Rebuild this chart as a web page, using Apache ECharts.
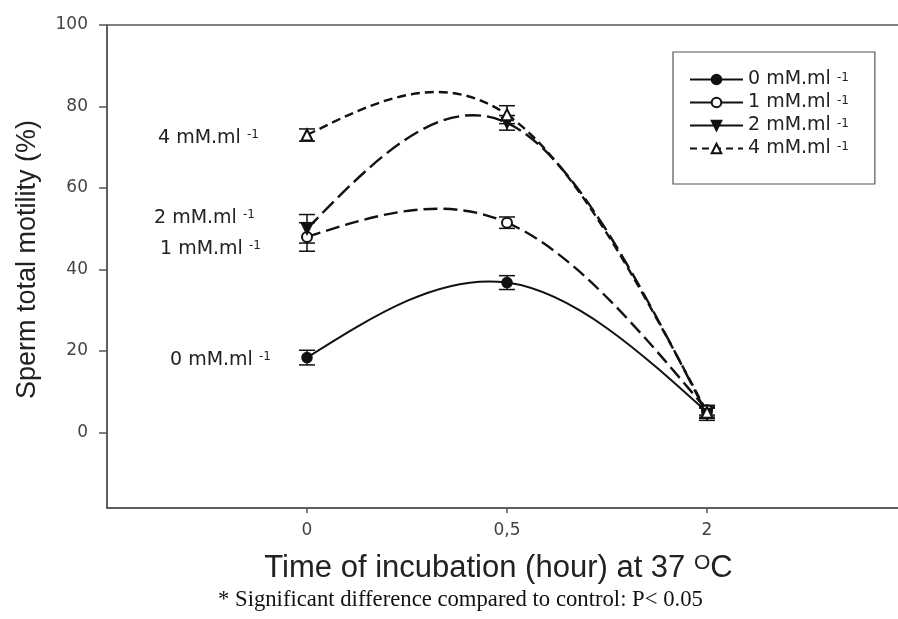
<!DOCTYPE html>
<html><head><meta charset="utf-8">
<script src="https://cdn.jsdelivr.net/npm/echarts@6/dist/echarts.min.js"></script>
<style>html,body{margin:0;padding:0;background:#fff}#c{width:898px;height:619px}</style>
</head><body><div id="c"></div>
<script>
// ---- data ----
const timeLabels = ['0', '0,5', '2'];           // incubation time (hour)
const yTicks = [0, 20, 40, 60, 80, 100];
const seriesNames = ['0 mM.ml', '1 mM.ml', '2 mM.ml', '4 mM.ml'];
const mean0 = [18.4, 36.8, 5.0];
const err0  = [1.8, 1.7, 1.2];
const mean1 = [48.0, 51.5, 5.5];
const err1  = [3.5, 1.4, 1.2];
const mean2 = [50.0, 76.0, 4.5];
const err2  = [3.5, 1.8, 1.5];
const mean4 = [73.0, 78.0, 5.0];
const err4  = [1.5, 2.2, 1.5];
const annotationTexts = ['4 mM.ml', '2 mM.ml', '1 mM.ml', '0 mM.ml'];
const footnote = '* Significant difference compared to control: P< 0.05';

const means = [mean0, mean1, mean2, mean4];
const errs = [err0, err1, err2, err4];

const INK = '#111';
const AXIS = '#555';
const dashes = ['solid', [14, 6], [16, 6], [9, 5]];
const symbols = ['circle', 'emptyCircle', 'triangle', 'emptyTriangle'];
const rotations = [0, 0, 180, 0];

// natural cubic spline second derivatives (unit spacing in category index)
function splineM(ys) {
  const n = ys.length, M = new Array(n).fill(0);
  if (n < 3) return M;
  const a = [], b = [], c = [], d = [];
  for (let i = 1; i < n - 1; i++) { a.push(1); b.push(4); c.push(1); d.push(6 * (ys[i + 1] - 2 * ys[i] + ys[i - 1])); }
  const m = b.length;
  for (let i = 1; i < m; i++) { const w = a[i] / b[i - 1]; b[i] -= w * c[i - 1]; d[i] -= w * d[i - 1]; }
  const x = new Array(m);
  x[m - 1] = d[m - 1] / b[m - 1];
  for (let i = m - 2; i >= 0; i--) x[i] = (d[i] - c[i] * x[i + 1]) / b[i];
  for (let i = 0; i < m; i++) M[i + 1] = x[i];
  return M;
}

function curveSeries(ys, k) {
  return {
    type: 'custom', name: seriesNames[k] + ' curve', silent: true, z: 2, clip: true,
    data: ys.map((v, i) => [i, v]),
    encode: { x: 0, y: 1 },
    renderItem: function (params, api) {
      if (params.dataIndex !== 0) return null;
      const M = splineM(ys);
      const children = [];
      for (let i = 0; i < ys.length - 1; i++) {
        const dy = ys[i + 1] - ys[i];
        const s0 = dy - (2 * M[i] + M[i + 1]) / 6;
        const s1 = dy + (M[i] + 2 * M[i + 1]) / 6;
        const p0 = api.coord([i, ys[i]]);
        const c1 = api.coord([i + 1 / 3, ys[i] + s0 / 3]);
        const c2 = api.coord([i + 2 / 3, ys[i + 1] - s1 / 3]);
        const p3 = api.coord([i + 1, ys[i + 1]]);
        children.push({
          type: 'bezierCurve',
          shape: { x1: p0[0], y1: p0[1], cpx1: c1[0], cpy1: c1[1], cpx2: c2[0], cpy2: c2[1], x2: p3[0], y2: p3[1] },
          style: { stroke: INK, lineWidth: k === 0 ? 2 : 2.4, fill: null, lineDash: dashes[k] === 'solid' ? null : dashes[k] }
        });
      }
      return { type: 'group', children: children };
    }
  };
}

function errSeries(mean, err, k) {
  return {
    type: 'custom', name: seriesNames[k] + ' err', silent: true, z: 3,
    data: mean.map((m, i) => [i, m - err[i], m + err[i]]),
    encode: { x: 0, y: [1, 2] },
    renderItem: function (params, api) {
      const x = api.value(0);
      const lo = api.coord([x, api.value(1)]);
      const hi = api.coord([x, api.value(2)]);
      const hw = 8;
      const st = { stroke: INK, lineWidth: 1.5 };
      return {
        type: 'group', children: [
          { type: 'line', shape: { x1: lo[0], y1: lo[1], x2: hi[0], y2: hi[1] }, style: st },
          { type: 'line', shape: { x1: lo[0] - hw, y1: lo[1], x2: lo[0] + hw, y2: lo[1] }, style: st },
          { type: 'line', shape: { x1: hi[0] - hw, y1: hi[1], x2: hi[0] + hw, y2: hi[1] }, style: st }
        ]
      };
    }
  };
}

function markerSeries(mean, k) {
  return {
    type: 'line', name: seriesNames[k], z: 5,
    data: mean.map((m, i) => [i, m]),
    symbol: symbols[k], symbolSize: k >= 2 ? 11 : 10, symbolRotate: rotations[k], showSymbol: true,
    lineStyle: { opacity: 0 },
    itemStyle: { color: INK, borderColor: INK, borderWidth: 1.5 },
    emphasis: { disabled: true }
  };
}

const series = [];
means.forEach((m, k) => series.push(curveSeries(m, k)));
means.forEach((m, k) => series.push(errSeries(m, errs[k], k)));
means.forEach((m, k) => series.push(markerSeries(m, k)));

const supRich = { sup: { fontSize: 12, verticalAlign: 'top', fontFamily: 'DejaVu Sans', fill: '#222', color: '#222' } };

const annPos = [[158, 138], [154, 218], [160, 249], [170, 360]];

const chart = echarts.init(document.getElementById('c'), null, { renderer: 'canvas' });
chart.setOption({
  animation: false,
  backgroundColor: '#fff',
  grid: { left: 107, top: 25, width: 800, height: 483, show: true, borderColor: AXIS, borderWidth: 1.5, outerBoundsMode: 'none', containLabel: false },
  title: {
    text: footnote, left: 213, top: 584,
    textStyle: { fontFamily: 'Liberation Serif', fontSize: 22.7, fontWeight: 'normal', color: '#111' }
  },
  legend: {
    orient: 'vertical', left: 673, top: 52,
    padding: [18, 26, 26, 16],
    borderColor: AXIS, borderWidth: 1.2,
    itemWidth: 53, itemHeight: 12, itemGap: 4,
    selectedMode: false,
    data: seriesNames.map((n, k) => ({
      name: n,
      lineStyle: { opacity: 1, width: 2, color: INK, type: k === 3 ? [7, 5] : 'solid' }
    })),
    formatter: n => n + ' {sup|-1}',
    textStyle: { fontFamily: 'DejaVu Sans', fontSize: 19, color: '#222', lineHeight: 16, rich: supRich }
  },
  xAxis: {
    type: 'value', min: -1, max: 3,
    name: 'Time of incubation (hour) at 37 {sup|O}C',
    nameLocation: 'middle', nameGap: 45,
    nameTextStyle: {
      fontFamily: 'Liberation Sans', fontSize: 31, color: '#222', padding: [0, 17, 0, 0],
      rich: { sup: { fontSize: 21, verticalAlign: 'top', fontFamily: 'Liberation Sans', color: '#222' } }
    },
    axisLine: { show: true, onZero: false, lineStyle: { color: AXIS, width: 1.5 } },
    axisTick: { show: true, inside: false, length: 5, lineStyle: { color: AXIS, width: 1.5 }, customValues: [0, 1, 2] },
    axisLabel: { customValues: [0, 1, 2], formatter: v => timeLabels[v], margin: 14, fontFamily: 'DejaVu Sans', fontSize: 17, color: '#444' },
    splitLine: { show: false }
  },
  yAxis: {
    type: 'value', min: -18.5, max: 100,
    name: 'Sperm total motility (%)',
    nameLocation: 'middle', nameGap: 66, nameRotate: 90,
    nameTextStyle: { fontFamily: 'Liberation Sans', fontSize: 27, color: '#222', padding: [0, 0, 0, 14] },
    axisLine: { show: true, onZero: false, lineStyle: { color: AXIS, width: 1.5 } },
    axisTick: { show: true, inside: false, length: 8, lineStyle: { color: AXIS, width: 1.5 }, customValues: yTicks },
    axisLabel: { customValues: yTicks, margin: 19, fontFamily: 'DejaVu Sans', fontSize: 17, color: '#444' },
    splitLine: { show: false }
  },
  graphic: annotationTexts.map((t, i) => ({
    type: 'text', x: annPos[i][0], y: annPos[i][1], silent: true,
    style: {
      text: t + ' {sup|-1}', align: 'left', verticalAlign: 'middle',
      fontFamily: 'DejaVu Sans', fontSize: 19, fill: '#222', rich: supRich
    }
  })),
  series: series
});
</script>
</body></html>
